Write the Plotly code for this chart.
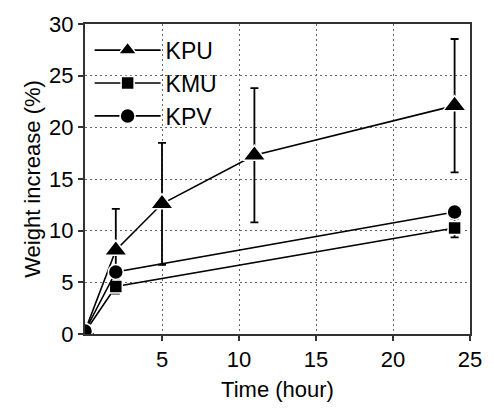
import plotly.graph_objects as go

time_kpu = [0, 2, 5, 11, 24]
kpu = [0.3, 8.1, 12.6, 17.3, 22.1]
kpu_err = [0, 4.0, 5.9, 6.5, 6.45]

time_kmu = [0, 2, 24]
kmu = [0.2, 4.6, 10.25]
kmu_err = [0, 0.7, 0.9]

time_kpv = [0, 2, 24]
kpv = [0.3, 6.0, 11.8]
kpv_err = [0, 0.5, 0.5]

x_ticks = [5, 10, 15, 20, 25]
y_ticks = [0, 5, 10, 15, 20, 25, 30]

FONT = "Arial, Liberation Sans, sans-serif"

fig = go.Figure()

def add(name, x, y, err, symbol, size):
    fig.add_trace(go.Scatter(
        x=x, y=y, name=name, mode="lines+markers",
        line=dict(color="black", width=1.6),
        marker=dict(symbol=symbol, size=size, color="black",
                    line=dict(color="white", width=1.5)),
        error_y=dict(type="data", array=err, visible=True, color="black",
                     thickness=1.8, width=4),
        cliponaxis=True,
    ))

add("KPU", time_kpu, kpu, kpu_err, "triangle-up", 20)
add("KMU", time_kmu, kmu, kmu_err, "square", 13)
add("KPV", time_kpv, kpv, kpv_err, "circle", 15)

axis_common = dict(
    showline=True, linecolor="#333", linewidth=2, mirror=True,
    ticks="outside", ticklen=5, tickwidth=2, tickcolor="#333",
    showgrid=True, gridcolor="#666", griddash="2px,3px", gridwidth=1,
    zeroline=False, tickfont=dict(family=FONT, size=22, color="black"),
)

fig.update_xaxes(range=[0, 25], tickvals=x_ticks,
                 title=dict(text="Time (hour)", font=dict(family=FONT, size=22, color="black"), standoff=10),
                 **axis_common)
fig.update_yaxes(range=[0, 30], tickvals=y_ticks,
                 title=dict(text="Weight increase (%)", font=dict(family=FONT, size=22, color="black"), standoff=2),
                 **axis_common)

fig.update_layout(
    width=494, height=410,
    margin=dict(l=85, r=15, t=24, b=67),
    plot_bgcolor="white", paper_bgcolor="white",
    legend=dict(x=0.012, y=0.985, xanchor="left", yanchor="top",
                font=dict(family=FONT, size=23, color="black"),
                bgcolor="rgba(255,255,255,0)", itemwidth=66, tracegroupgap=0),
)

fig.write_html("out.html", config={"displayModeBar": False},
               post_script="document.body.style.margin='0';document.body.style.overflow='hidden';")
